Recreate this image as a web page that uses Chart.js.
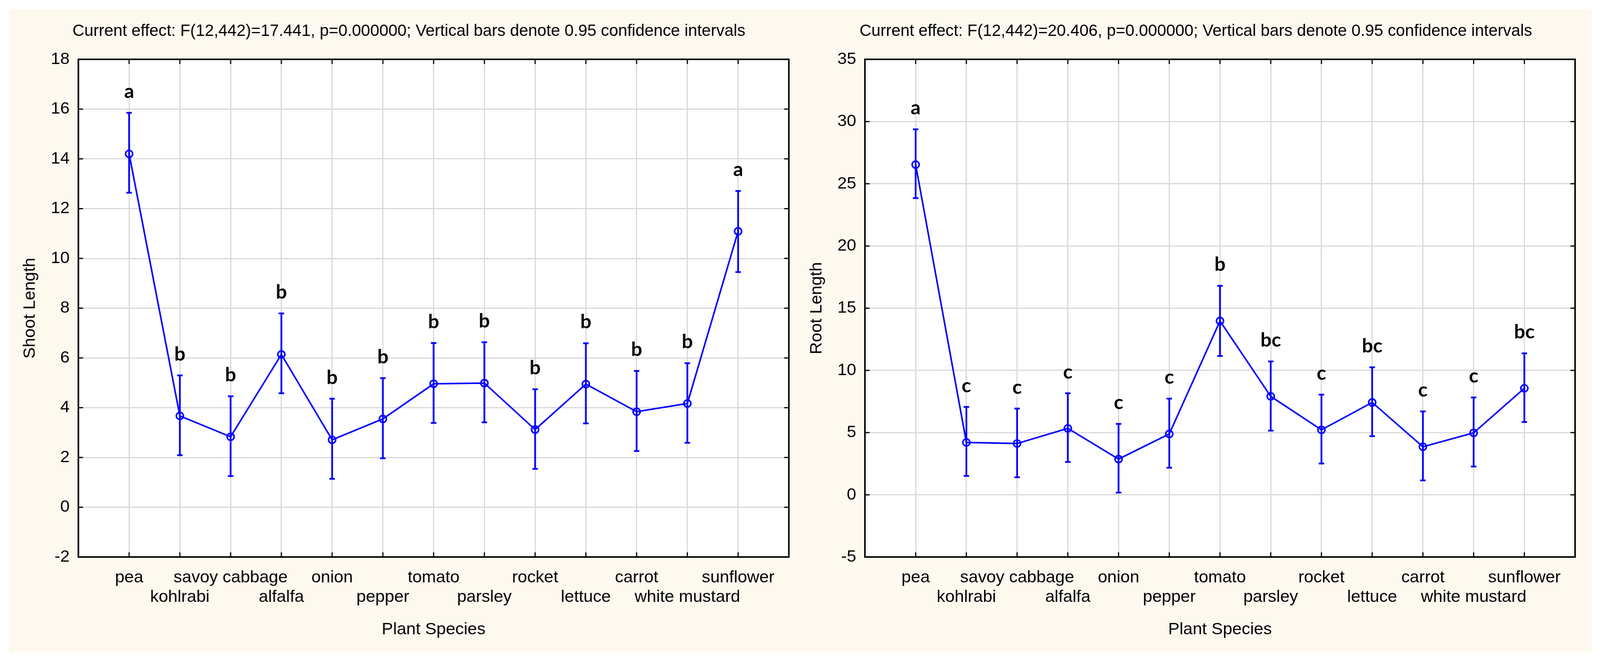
<!DOCTYPE html>
<html>
<head>
<meta charset="utf-8">
<title>Shoot and root length by plant species</title>
<script src="https://cdn.jsdelivr.net/npm/chart.js@4.4.1/dist/chart.umd.min.js"></script>
<style>
    html, body { margin: 0; padding: 0; background: #ffffff; overflow: hidden; }
    .paper { position: absolute; background: #fdf9ef; }
    .panel { position: absolute; }
</style>
</head>
<body>
<div class="paper" id="paper"></div>
<div class="panel" id="left-panel"><canvas id="shoot-chart"></canvas></div>
<div class="panel" id="right-panel"><canvas id="root-chart"></canvas></div>
<script>
const species = ['pea', 'kohlrabi', 'savoy cabbage', 'alfalfa', 'onion', 'pepper', 'tomato',
    'parsley', 'rocket', 'lettuce', 'carrot', 'white mustard', 'sunflower'];

// shoot length: means and 0.95 confidence limits
const shootMean = [14.2, 3.67, 2.83, 6.14, 2.71, 3.55, 4.96, 4.99, 3.12, 4.95, 3.84, 4.17, 11.09];
const shootUpper = [15.85, 5.30, 4.46, 7.79, 4.36, 5.19, 6.60, 6.63, 4.74, 6.59, 5.48, 5.79, 12.71];
const shootLower = [12.64, 2.09, 1.25, 4.58, 1.14, 1.97, 3.39, 3.41, 1.54, 3.37, 2.26, 2.59, 9.45];
const shootGroups = ['a', 'b', 'b', 'b', 'b', 'b', 'b', 'b', 'b', 'b', 'b', 'b', 'a'];

// root length: means and 0.95 confidence limits
const rootMean = [26.54, 4.21, 4.12, 5.34, 2.87, 4.89, 13.97, 7.91, 5.22, 7.42, 3.86, 4.98, 8.56];
const rootUpper = [29.38, 7.06, 6.93, 8.16, 5.70, 7.73, 16.80, 10.72, 8.05, 10.25, 6.70, 7.82, 11.37];
const rootLower = [23.85, 1.52, 1.41, 2.64, 0.18, 2.18, 11.16, 5.16, 2.51, 4.71, 1.16, 2.27, 5.85];
const rootGroups = ['a', 'c', 'c', 'c', 'c', 'c', 'b', 'bc', 'c', 'bc', 'c', 'c', 'bc'];

const shootTitle = 'Current effect: F(12,442)=17.441, p=0.000000; Vertical bars denote 0.95 confidence intervals';
const rootTitle = 'Current effect: F(12,442)=20.406, p=0.000000; Vertical bars denote 0.95 confidence intervals';

const shootTicks = { min: -2, max: 18, step: 2 };
const rootTicks = { min: -5, max: 35, step: 5 };

const BLUE = '#0000ff';
const TEXT = '#000000';
const AXIS_FONT = 'Liberation Sans, Arial, sans-serif';

// page geometry of the original figure (4407 x 1696), rescaled to the real window
const REF_W = 4407, REF_H = 1696;
const PAPER = { x0: 25, x1: 4384, y0: 24, y1: 1672 };
const PLOT_TOP = 152, PLOT_BOTTOM = 1427, TITLE_Y = 80;

// white plot area, black frame and inward tick marks on all four sides
const frameAndTicks = {
    id: 'frameAndTicks',
    beforeDraw(chart) {
        const { ctx, chartArea: a } = chart;
        ctx.save();
        ctx.fillStyle = '#ffffff';
        ctx.fillRect(a.left, a.top, a.right - a.left, a.bottom - a.top);
        ctx.restore();
    },
    afterDraw(chart) {
        const { ctx, chartArea: a, scales } = chart;
        const len = 12;
        ctx.save();
        ctx.strokeStyle = '#000000';
        ctx.lineWidth = 3;
        ctx.beginPath();
        scales.x.ticks.forEach(t => {
            if (t.value < 0 || t.value >= species.length) return;
            const px = scales.x.getPixelForValue(t.value);
            ctx.moveTo(px, a.bottom); ctx.lineTo(px, a.bottom - len);
            ctx.moveTo(px, a.top); ctx.lineTo(px, a.top + len);
        });
        scales.y.ticks.forEach(t => {
            const py = scales.y.getPixelForValue(t.value);
            ctx.moveTo(a.left, py); ctx.lineTo(a.left + len, py);
            ctx.moveTo(a.right, py); ctx.lineTo(a.right - len, py);
        });
        ctx.stroke();
        ctx.lineWidth = 4;
        ctx.strokeRect(a.left, a.top, a.right - a.left, a.bottom - a.top);
        ctx.restore();
    }
};

// confidence interval whiskers and group letters
const whiskers = {
    id: 'whiskers',
    afterDatasetsDraw(chart, args, opts) {
        const { ctx, scales: { x, y } } = chart;
        ctx.save();
        ctx.strokeStyle = BLUE;
        ctx.lineWidth = 4.5;
        opts.upper.forEach((hi, i) => {
            const px = x.getPixelForValue(i);
            const top = y.getPixelForValue(hi);
            const bottom = y.getPixelForValue(opts.lower[i]);
            ctx.beginPath();
            ctx.moveTo(px, top); ctx.lineTo(px, bottom);
            ctx.moveTo(px - 7, top); ctx.lineTo(px + 7, top);
            ctx.moveTo(px - 7, bottom); ctx.lineTo(px + 7, bottom);
            ctx.stroke();
        });
        ctx.fillStyle = '#000000';
        ctx.font = `bold ${opts.letterSize}px Lato, "Open Sans", sans-serif`;
        ctx.textAlign = 'center';
        ctx.textBaseline = 'alphabetic';
        opts.groups.forEach((g, i) => {
            const px = x.getPixelForValue(i);
            ctx.fillText(g, px, y.getPixelForValue(opts.upper[i]) - 38);
        });
        ctx.restore();
    }
};

function makeChart(canvasId, holderId, cfg, sx, sy) {
    const holder = document.getElementById(holderId);
    holder.style.left = (cfg.x0 * sx) + 'px';
    holder.style.top = (PAPER.y0 * sy) + 'px';
    holder.style.width = ((cfg.x1 - cfg.x0) * sx) + 'px';
    holder.style.height = ((PAPER.y1 - PAPER.y0) * sy) + 'px';

    const fs = 45 * (sx + sy) / 2;
    const titleSize = 45 * sx;
    const titleTop = (TITLE_Y - PAPER.y0) * sy - titleSize * 0.6;
    const titleBottom = (PLOT_TOP - PAPER.y0) * sy - titleTop - titleSize * 1.2;
    const yTitlePad = Math.max(0, (cfg.yTitleX - cfg.x0) * sx - fs * 0.6);

    const ctx = document.getElementById(canvasId).getContext('2d');
    return new Chart(ctx, {
        type: 'line',
        data: {
            datasets: [{
                data: cfg.mean.map((v, i) => ({ x: i, y: v })),
                borderColor: BLUE,
                borderWidth: 4,
                pointRadius: 9,
                pointBorderWidth: 4,
                pointBorderColor: BLUE,
                pointBackgroundColor: 'rgba(0,0,0,0)',
                tension: 0
            }]
        },
        plugins: [frameAndTicks, whiskers],
        options: {
            responsive: true,
            maintainAspectRatio: false,
            animation: false,
            layout: { padding: 0 },
            plugins: {
                legend: { display: false },
                tooltip: { enabled: false },
                title: {
                    display: true,
                    text: cfg.title,
                    color: TEXT,
                    font: { family: AXIS_FONT, size: titleSize, weight: 'normal', lineHeight: 1.2 },
                    padding: { top: titleTop, bottom: titleBottom }
                },
                whiskers: { upper: cfg.upper, lower: cfg.lower, groups: cfg.groups, letterSize: 52 * (sx + sy) / 2 }
            },
            scales: {
                x: {
                    type: 'linear',
                    min: -1,
                    max: species.length,
                    afterFit: s => { s.height = (PAPER.y1 - PLOT_BOTTOM) * sy; },
                    grid: { color: '#d9d9d9', lineWidth: 3, drawTicks: false },
                    border: { display: false },
                    ticks: {
                        stepSize: 1,
                        autoSkip: false,
                        maxRotation: 0,
                        padding: 53 * sy - fs * 0.58,
                        color: TEXT,
                        font: { family: AXIS_FONT, size: fs, lineHeight: 1.16 },
                        callback: value => {
                            const name = species[value];
                            if (name === undefined) return '';
                            return value % 2 === 0 ? name : ['', name];
                        }
                    },
                    title: {
                        display: true,
                        text: 'Plant Species',
                        color: TEXT,
                        font: { family: AXIS_FONT, size: fs, lineHeight: 1.2 },
                        padding: { top: 0, bottom: (PAPER.y1 - 1613) * sy - fs * 0.6 }
                    }
                },
                y: {
                    position: 'left',
                    min: cfg.ticks.min,
                    max: cfg.ticks.max,
                    afterFit: s => { s.width = (cfg.plotLeft - cfg.x0) * sx; },
                    grid: { color: '#d9d9d9', lineWidth: 3, drawTicks: false },
                    border: { display: false },
                    ticks: {
                        stepSize: cfg.ticks.step,
                        padding: 24 * sx,
                        color: TEXT,
                        font: { family: AXIS_FONT, size: fs }
                    },
                    title: {
                        display: true,
                        text: cfg.yTitle,
                        color: TEXT,
                        font: { family: AXIS_FONT, size: fs, lineHeight: 1.2 },
                        padding: { top: yTitlePad, bottom: 0 }
                    }
                },
                yRight: {
                    position: 'right',
                    min: cfg.ticks.min,
                    max: cfg.ticks.max,
                    afterFit: s => { s.width = (cfg.x1 - cfg.plotRight) * sx; },
                    grid: { drawOnChartArea: false, drawTicks: false },
                    border: { display: false },
                    ticks: { display: false }
                }
            }
        }
    });
}

document.addEventListener('DOMContentLoaded', () => {
    const sx = window.innerWidth / REF_W;
    const sy = window.innerHeight / REF_H;

    const paper = document.getElementById('paper');
    paper.style.left = (PAPER.x0 * sx) + 'px';
    paper.style.top = (PAPER.y0 * sy) + 'px';
    paper.style.width = ((PAPER.x1 - PAPER.x0) * sx) + 'px';
    paper.style.height = ((PAPER.y1 - PAPER.y0) * sy) + 'px';

    makeChart('shoot-chart', 'left-panel', {
        mean: shootMean, upper: shootUpper, lower: shootLower, groups: shootGroups,
        title: shootTitle, yTitle: 'Shoot Length', ticks: shootTicks,
        x0: 25, x1: 2227, plotLeft: 216, plotRight: 2172, yTitleX: 83
    }, sx, sy);
    makeChart('root-chart', 'right-panel', {
        mean: rootMean, upper: rootUpper, lower: rootLower, groups: rootGroups,
        title: rootTitle, yTitle: 'Root Length', ticks: rootTicks,
        x0: 2215, x1: 4372, plotLeft: 2382, plotRight: 4338, yTitleX: 2249
    }, sx, sy);
});
</script>
</body>
</html>
